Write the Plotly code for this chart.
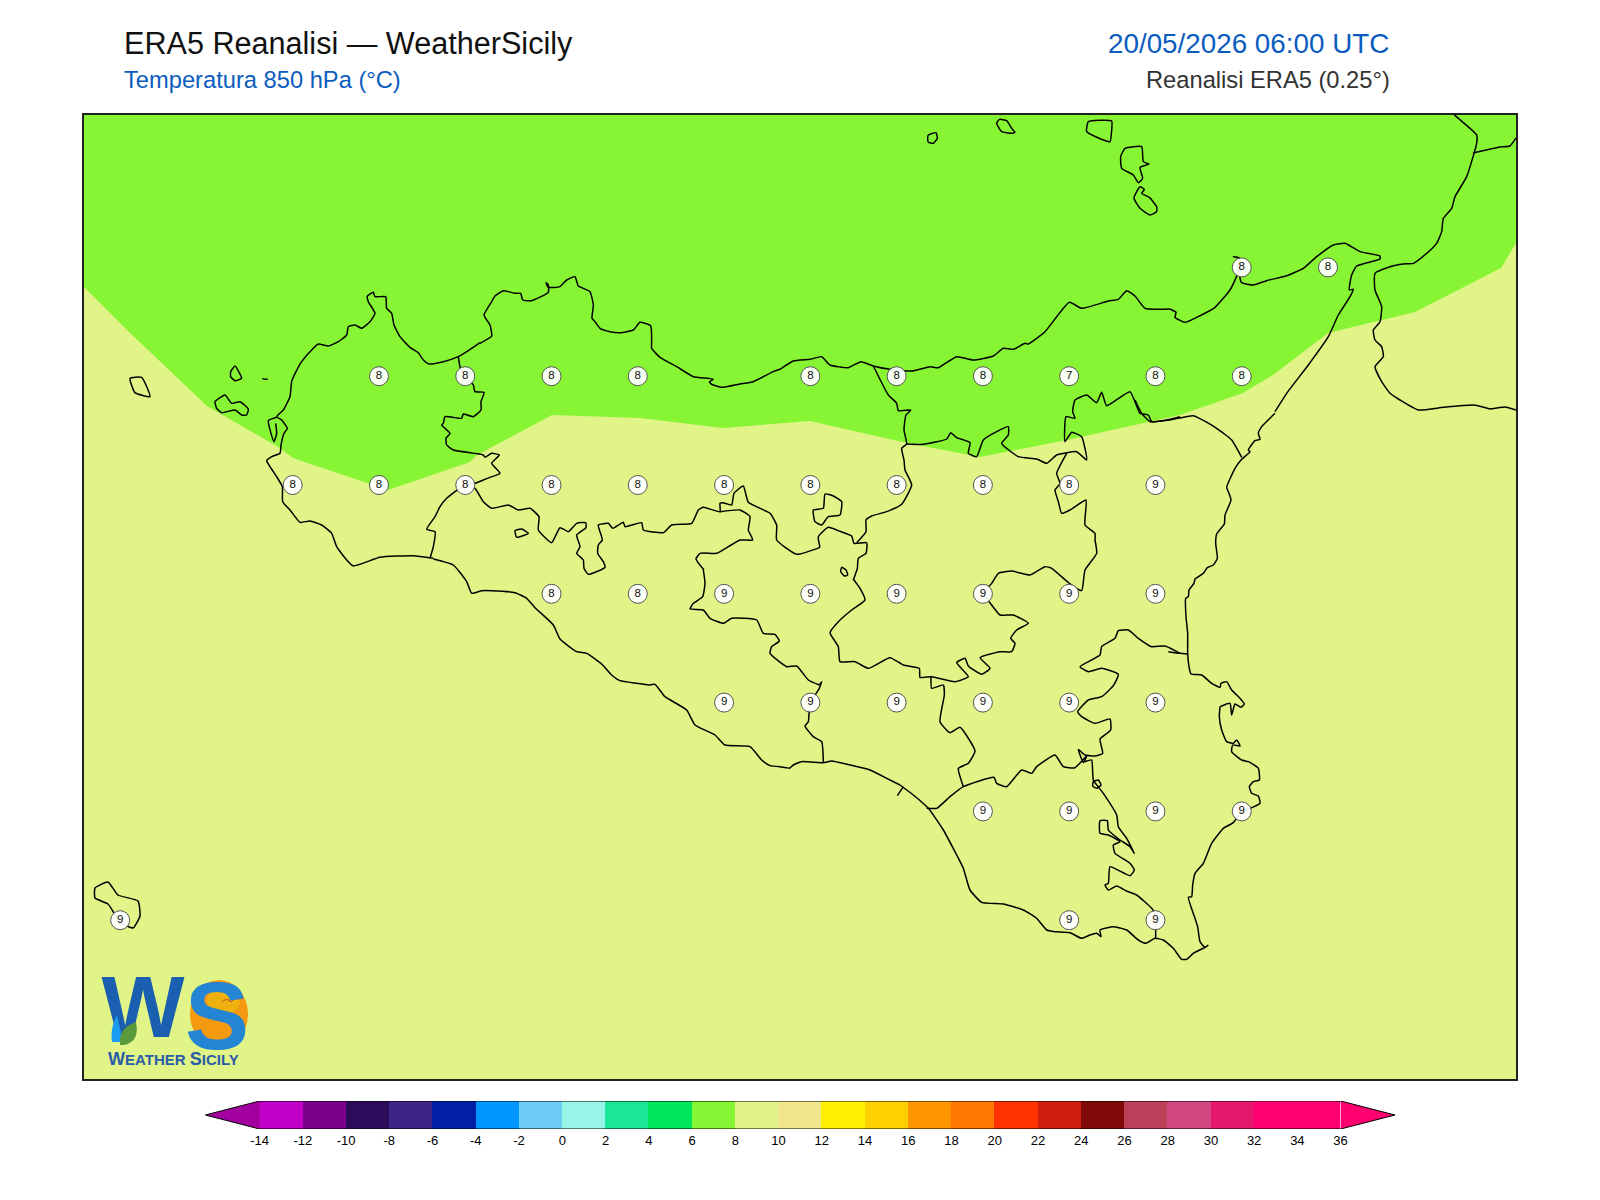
import plotly.graph_objects as go

# ---------- values printed on the map ----------
GRID_LON = [15.25, 15.5,
            12.75, 13.0, 13.25, 13.5, 14.0, 14.25, 14.5, 14.75, 15.0, 15.25,
            12.5, 12.75, 13.0, 13.25, 13.5, 13.75, 14.0, 14.25, 14.5, 14.75, 15.0,
            13.25, 13.5, 13.75, 14.0, 14.25, 14.5, 14.75, 15.0,
            13.75, 14.0, 14.25, 14.5, 14.75, 15.0,
            14.5, 14.75, 15.0, 15.25,
            12.0, 14.75, 15.0]
GRID_LAT = [38.25] * 2 + [38.0] * 10 + [37.75] * 11 + [37.5] * 8 + [37.25] * 6 + [37.0] * 4 + [36.75] * 3
GRID_T = [8, 8,
          8, 8, 8, 8, 8, 8, 8, 7, 8, 8,
          8, 8, 8, 8, 8, 8, 8, 8, 8, 8, 9,
          8, 8, 9, 9, 9, 9, 9, 9,
          9, 9, 9, 9, 9, 9,
          9, 9, 9, 9,
          9, 9, 9]

# ---------- colour scale ----------
LEVELS = list(range(-14, 36, 2))
LEVEL_COLORS = ["#c000c8", "#7d008a", "#2e0a5a", "#3d2587", "#001ea6", "#0096ff", "#6ecdf7", "#96f5e6",
                "#1ee698", "#00e65a", "#87f533", "#e1f487", "#f0e68c", "#fff000", "#ffd000", "#ff9600",
                "#ff7800", "#ff3200", "#cd1e0f", "#800a0a", "#bd405a", "#d04680", "#e6186e", "#ff0070", "#ff0070"]
TICK_VALUES = list(range(-14, 38, 2))
TICK_LABELS = [str(v) for v in TICK_VALUES]
LOW_COLOR = "#a3009f"
HIGH_COLOR = "#ff0070"
BAND_6_8 = "#87f533"
BAND_8_10 = "#e1f487"

# ---------- traced outlines: tracing-sheet units, converted to lon/lat below ----------
BAND_EDGE = [(84, 287), (127, 330), (207, 406), (280, 448), (293, 458), (388, 490), (470, 462), (477, 455),
             (552, 415), (640, 418), (723, 428), (810, 421), (907, 443), (980, 457), (1067, 440), (1180, 415),
             (1243, 393), (1273, 375), (1328, 333), (1415, 312), (1501, 268), (1516, 243)]

COAST_WEST = [(1060, 895), (1000, 887), (900, 892), (820, 918), (800, 900), (770, 860), (755, 820), (725, 795),
              (690, 783), (660, 787), (630, 750), (608, 725), (607, 680), (590, 650), (570, 620), (560, 602),
              (575, 590), (600, 580), (603, 555), (612, 520), (622, 505), (605, 480), (590, 470), (610, 450),
              (630, 410), (635, 365), (648, 335), (665, 305), (700, 265), (715, 252), (745, 258), (775, 245),
              (800, 225), (805, 200), (825, 195), (845, 205), (870, 185), (885, 160), (865, 125), (862, 108),
              (880, 97), (885, 110), (917, 110), (920, 145), (935, 160), (942, 195), (960, 230), (990, 262),
              (1015, 278), (1030, 300), (1047, 312), (1090, 305), (1135, 290), (1165, 272), (1200, 248)]
STAGNONE = [(590, 472), (565, 482), (573, 520), (582, 545), (590, 520), (587, 490)]
COAST_PALERMO = [(180, 250), (215, 228), (210, 195), (192, 165), (215, 125), (225, 108), (250, 92), (285, 100),
                 (302, 100), (308, 120), (335, 122), (385, 97), (385, 75), (378, 68), (385, 82), (420, 80),
                 (440, 60), (465, 50), (475, 78), (510, 95), (520, 135), (516, 175), (525, 185), (540, 205),
                 (570, 215), (600, 218), (640, 210), (660, 187), (692, 197), (695, 245), (695, 265), (720, 292),
                 (770, 320), (820, 350), (865, 355), (880, 358), (868, 365), (875, 373), (905, 382), (960, 372),
                 (1000, 365), (1060, 335), (1080, 328)]
COAST_NEBRODI = [(0, 328), (40, 303), (90, 298), (125, 290), (150, 315), (205, 323), (243, 305), (280, 318),
                 (330, 328), (395, 333), (450, 320), (475, 323), (530, 290), (580, 300), (640, 288), (670, 265),
                 (700, 268), (735, 250), (745, 252), (795, 215), (868, 127), (905, 145), (985, 123), (1015, 118),
                 (1040, 92), (1065, 108), (1095, 145), (1170, 147)]
COAST_PELORITANI = [(240, 597), (258, 607), (255, 622), (285, 637), (320, 622), (375, 592), (420, 540), (440, 498),
                    (447, 445), (430, 440), (447, 443), (450, 505), (455, 518), (490, 525), (530, 512), (590, 497),
                    (640, 475), (680, 440), (730, 405), (765, 400), (810, 425), (870, 438), (870, 447), (800, 468),
                    (785, 495), (778, 540), (790, 538), (780, 560), (745, 615), (715, 680), (655, 765), (590, 850),
                    (555, 905)]
COAST_IONIAN = [(465, 40), (425, 80), (415, 100), (420, 118), (405, 122), (385, 150), (390, 155), (365, 178),
                (345, 205), (320, 262), (325, 275), (333, 300), (315, 345), (313, 372), (290, 402), (287, 430),
                (292, 475), (280, 495), (262, 503), (250, 520), (225, 537), (222, 550), (207, 570), (205, 590),
                (197, 595), (198, 650), (203, 700), (203, 760), (207, 800), (213, 822), (245, 825), (275, 850),
                (300, 862), (303, 850), (320, 845), (335, 870), (360, 895), (373, 912), (362, 922), (345, 912),
                (335, 945), (330, 910), (300, 920)]
COAST_SOUTHEAST = [(960, 20), (958, 50), (965, 90), (980, 125), (1000, 130), (1010, 120), (1020, 138), (998, 135),
                   (995, 155), (1025, 180), (1045, 185), (1075, 205), (1078, 240), (1060, 245), (1048, 260),
                   (1055, 280), (1075, 288), (1080, 310), (1050, 325), (1025, 333), (1000, 368), (970, 385),
                   (935, 430), (910, 490), (885, 520), (878, 555), (875, 590), (865, 592), (885, 655), (893, 680),
                   (900, 725), (915, 742), (925, 735), (915, 742), (880, 760), (860, 778), (845, 778), (820, 745),
                   (790, 720), (765, 715), (738, 730), (715, 720), (680, 690), (640, 680), (600, 690), (603, 710),
                   (590, 700), (570, 705), (545, 715), (510, 698), (465, 695), (440, 690), (410, 655), (370, 630),
                   (310, 612), (245, 607), (210, 570), (190, 505), (170, 465), (130, 390), (85, 325), (40, 285),
                   (0, 255)]
COAST_GELA = [(360, 735), (330, 720), (270, 690), (210, 675), (155, 663), (130, 668), (65, 665), (40, 675),
              (28, 685), (20, 683), (0, 680)]
GELA_MOUTH = [(370, 740), (352, 767)]
COAST_SOUTHWEST = [(1080, 680), (1050, 677), (1025, 660), (990, 620), (915, 615), (885, 585), (825, 555), (800, 510),
                   (735, 470), (705, 433), (685, 435), (650, 430), (600, 422), (575, 405), (545, 372), (500, 340),
                   (470, 335), (420, 297), (400, 255), (345, 203), (320, 175), (285, 158), (215, 152), (185, 152),
                   (155, 160), (140, 125), (100, 75), (40, 57)]

BORDER_TP_PA = [(115, 290), (120, 320), (135, 349), (160, 375), (165, 395), (192, 397), (183, 425), (183, 450),
                (160, 470), (130, 462), (125, 475), (75, 470), (70, 490), (65, 495), (90, 520), (78, 535),
                (80, 555), (100, 570), (190, 585), (195, 592), (215, 580), (238, 585), (215, 610), (240, 640),
                (210, 652), (190, 660), (165, 670), (135, 675), (165, 685), (190, 725), (215, 745), (265, 735),
                (295, 750), (330, 745), (357, 770), (355, 810), (395, 848), (420, 803), (445, 815), (470, 790),
                (497, 788), (498, 803), (470, 825), (480, 860), (470, 880), (490, 900), (492, 925), (505, 943),
                (555, 922), (550, 905), (533, 880), (535, 855), (547, 840), (535, 795), (565, 790), (578, 805),
                (610, 787), (615, 800), (665, 788), (670, 810), (730, 818), (755, 795), (815, 790), (835, 750),
                (850, 742), (900, 755), (900, 730), (908, 728), (935, 735), (942, 700), (970, 678), (985, 727),
                (1050, 760), (1070, 795), (1070, 840), (1130, 883), (1200, 862)]
BORDER_TP_AG = [(135, 675), (105, 695), (80, 715), (60, 740), (45, 770), (20, 808), (45, 815), (40, 860), (30, 895)]
BORDER_AG_CL_N = [(900, 755), (960, 750), (990, 770), (985, 810), (998, 840), (960, 840), (925, 860), (890, 880),
                  (840, 880), (828, 897), (852, 930)]
BORDER_AG_CL_S = [(850, 90), (855, 130), (848, 170), (820, 190), (810, 207), (850, 210), (870, 235), (910, 250),
                  (935, 235), (1010, 240), (1030, 280), (1065, 283), (1078, 303), (1055, 320), (1050, 340),
                  (1100, 380), (1130, 378), (1165, 420), (1198, 435)]
BORDER_AG_CL_END = [(118, 435), (125, 425), (118, 445), (90, 490), (85, 545), (75, 558), (100, 590), (125, 605),
                    (130, 668)]
BORDER_PA_CL = [(120, 862), (115, 830), (145, 802), (175, 812), (215, 828),
                (222, 850), (260, 848), (258, 880), (235, 895), (232, 925), (220, 960)]
BORDER_PA_ME = [(230, 848), (258, 815), (258, 780), (275, 768), (320, 755), (365, 733), (395, 675), (375, 630),
                (372, 600), (365, 565), (380, 552), (372, 510), (378, 465), (393, 450), (355, 452), (350, 430),
                (325, 405), (280, 318)]
BORDER_ME_EN = [(380, 552), (430, 553), (500, 537), (512, 518), (530, 533), (570, 548), (565, 580), (590, 590),
                (610, 540), (650, 515), (685, 500), (685, 525), (665, 550), (715, 590), (770, 597), (800, 610),
                (830, 585), (890, 575), (920, 600), (905, 530), (875, 517), (855, 545), (858, 470), (885, 475),
                (878, 455), (885, 420), (920, 405), (950, 428), (965, 397), (980, 437), (1050, 395), (1080, 460),
                (1105, 465), (1115, 485), (1170, 478), (1200, 470)]
BORDER_ME_CT = [(860, 580), (830, 640), (840, 670), (825, 690), (835, 725), (845, 760), (870, 750), (918, 720),
                (915, 795), (945, 820), (945, 840)]
BORDER_EN_CL = [(220, 118), (240, 145), (255, 180), (215, 210), (175, 245), (150, 278), (175, 320), (180, 365),
                (225, 365), (265, 385), (330, 353), (370, 375), (418, 385), (420, 412), (455, 410), (525, 425),
                (565, 410), (530, 368), (555, 355), (565, 378), (605, 403), (630, 385), (600, 353), (660, 335),
                (695, 335), (705, 310), (692, 295), (710, 270), (745, 250), (700, 225), (660, 225), (635, 195),
                (610, 160), (635, 130), (655, 100), (695, 93), (750, 105), (795, 80), (815, 85), (868, 130),
                (905, 152), (915, 90), (950, 40), (945, 0)]
BORDER_CT_EAST = [(45, 0), (65, 40), (90, 65), (150, 60), (220, 47), (290, 85), (335, 120), (365, 172)]
BORDER_CT_SR = [(1200, 340), (1155, 318), (1115, 320), (1075, 295), (1045, 270), (1015, 272), (1005, 295), (965, 320),
                (960, 345), (900, 380), (925, 395), (965, 385), (1015, 403), (1000, 437), (965, 470), (925, 480),
                (893, 515), (905, 530), (945, 550), (990, 537), (992, 570), (960, 597), (968, 640), (945, 648),
                (915, 645), (895, 628), (910, 668), (920, 648), (885, 683), (850, 680), (825, 645), (770, 680),
                (755, 700), (725, 690), (680, 740), (650, 730), (642, 712), (550, 740), (510, 770), (470, 805),
                (440, 805)]
BORDER_CT_SR_END = [(145, 755), (180, 760), (202, 762)]
BORDER_CL_RG = [(550, 740), (535, 685), (565, 670), (585, 633), (540, 562), (510, 578), (480, 545), (493, 465),
                (490, 435), (455, 445), (453, 408)]
BORDER_RG_SR = [(555, 185), (575, 180), (580, 240), (610, 280), (650, 345), (655, 380), (680, 415), (703, 460),
                (690, 440), (660, 420), (625, 390), (622, 362), (600, 362), (600, 400), (625, 405), (660, 425),
                (640, 435), (645, 460), (690, 490), (703, 510), (690, 527), (630, 500), (625, 550), (615, 555),
                (625, 570), (650, 558), (680, 573), (710, 585), (755, 625), (765, 640), (767, 715)]
LAKE_POZZILLO = [(580, 245), (595, 240), (603, 255), (590, 265), (578, 258), (580, 245)]
LAKE_ARANCIO = [(285, 812), (305, 807), (325, 820), (290, 832), (285, 812)]
LAKE_ROSAMARINA = [(135, 702), (160, 708), (185, 725), (180, 765), (145, 770), (125, 795), (105, 785), (100, 750),
                   (130, 745), (135, 702)]
LAKE_PERGUSA = [(185, 82), (198, 90), (203, 105), (193, 108), (182, 95), (185, 82)]

FAVIGNANA = [(405, 425), (435, 405), (455, 430), (480, 425), (505, 447), (500, 465), (485, 465), (465, 450),
             (425, 458), (410, 445), (405, 425)]
LEVANZO = [(465, 318), (485, 355), (465, 362), (452, 350), (452, 335), (465, 318)]
MARETTIMO = [(150, 355), (185, 352), (210, 410), (165, 398), (150, 355)]
MARAONE = [(547, 355), (555, 358), (563, 358)]
ALICUDI = [(145, 75), (168, 68), (172, 85), (160, 100), (145, 97), (143, 85), (145, 75)]
FILICUDI = [(350, 40), (358, 28), (380, 32), (395, 55), (405, 67), (395, 70), (365, 65), (350, 40)]
SALINA = [(625, 35), (695, 33), (695, 60), (690, 95), (670, 90), (620, 65), (625, 35)]
LIPARI = [(735, 115), (785, 110), (790, 155), (807, 162), (780, 172), (788, 205), (775, 218), (760, 195),
          (725, 175), (722, 140), (735, 115)]
VULCANO = [(780, 230), (793, 238), (785, 250), (808, 262), (830, 290), (830, 305), (810, 315), (780, 295),
           (762, 265), (770, 245), (780, 230)]
PANTELLERIA = [(95, 888), (108, 882), (118, 895), (138, 901), (140, 916), (133, 928), (120, 922), (108, 904),
               (95, 898), (95, 888)]
CALABRIA_WEST = [(1090, 12), (1120, 38), (1160, 75), (1160, 100), (1130, 200), (1095, 260), (1085, 295), (1060, 325),
                 (1055, 365), (1040, 400), (1010, 430), (970, 460), (940, 462), (900, 470), (855, 490), (855, 540),
                 (875, 590), (870, 635), (850, 660), (855, 690), (875, 710), (880, 740), (855, 770), (875, 815),
                 (900, 850), (930, 870), (985, 900), (1060, 892), (1150, 885), (1200, 897)]
CALABRIA_SOUTH_END = [(1490, 409), (1505, 407), (1516, 410)]
CALABRIA_NORTH = [(1473, 153), (1486, 150), (1500, 147), (1510, 146), (1516, 138)]

# (outline, sheet left, sheet top, sheet units per map unit)
SHEET_1 = (80, 260, 3)
SHEET_2 = (420, 260, 3)
SHEET_3 = (780, 260, 3)
SHEET_4 = (1090, 110, 3)
SHEET_5 = (420, 540, 3)
SHEET_6 = (780, 540, 3)
SHEET_7 = (900, 700, 3)
SHEET_8 = (1120, 400, 3)
SHEET_12 = (880, 110, 3)
SHEET_0 = (0, 0, 1)
OUTLINES = [(COAST_WEST, SHEET_1), (STAGNONE, SHEET_1), (FAVIGNANA, SHEET_1), (LEVANZO, SHEET_1), (MARETTIMO, SHEET_1),
            (MARAONE, SHEET_1), (COAST_PALERMO, SHEET_2), (COAST_NEBRODI, SHEET_3), (COAST_PELORITANI, SHEET_4),
            (COAST_IONIAN, SHEET_8), (COAST_SOUTHEAST, SHEET_7), (COAST_GELA, SHEET_6), (GELA_MOUTH, SHEET_6),
            (COAST_SOUTHWEST, SHEET_5), (BORDER_TP_PA, SHEET_2), (BORDER_TP_AG, SHEET_2), (BORDER_AG_CL_N, SHEET_2),
            (BORDER_AG_CL_S, SHEET_5), (BORDER_AG_CL_END, SHEET_6), (BORDER_PA_CL, SHEET_3), (BORDER_PA_ME, SHEET_3),
            (BORDER_ME_EN, SHEET_3), (BORDER_ME_CT, SHEET_3), (BORDER_EN_CL, SHEET_6), (BORDER_CT_EAST, SHEET_8),
            (BORDER_CT_SR, SHEET_6), (BORDER_CT_SR_END, SHEET_8), (BORDER_CL_RG, SHEET_6), (BORDER_RG_SR, SHEET_7),
            (LAKE_POZZILLO, SHEET_7), (LAKE_ARANCIO, SHEET_2), (LAKE_ROSAMARINA, SHEET_3), (LAKE_PERGUSA, SHEET_6),
            (ALICUDI, SHEET_12), (FILICUDI, SHEET_12), (SALINA, SHEET_12), (LIPARI, SHEET_12), (VULCANO, SHEET_12),
            (PANTELLERIA, SHEET_0), (CALABRIA_WEST, SHEET_4), (CALABRIA_SOUTH_END, SHEET_0), (CALABRIA_NORTH, SHEET_0)]

# ---------- page geometry ----------
W, H = 1600, 1200
LEFT, RIGHT, TOP, BOTTOM = 84, 1516, 115, 1079
CB_LEFT, CB_RIGHT, CB_TOP, CB_BOTTOM = 205.3, 1395, 1101, 1129


def lon_of(p):
    return 12.5 + (p - 292.7) / 345.1


def lat_of(p):
    return 38.0 - (p - 376.2) / 435.2


def to_geo(points, sheet):
    x0, y0, s = sheet
    return [lon_of(x0 + a / s) for a, _ in points], [lat_of(y0 + b / s) for _, b in points]


def fx(p):
    return p / W


def fy(p):
    return 1 - p / H


fig = go.Figure()

# 8-10 background, then the 6-8 band
fig.add_trace(go.Scatter(x=[lon_of(LEFT), lon_of(RIGHT), lon_of(RIGHT), lon_of(LEFT), lon_of(LEFT)],
                         y=[lat_of(BOTTOM), lat_of(BOTTOM), lat_of(TOP), lat_of(TOP), lat_of(BOTTOM)],
                         fill="toself", fillcolor=BAND_8_10, mode="none", hoverinfo="skip"))
ex, ey = to_geo(BAND_EDGE, SHEET_0)
fig.add_trace(go.Scatter(x=[lon_of(LEFT)] + ex + [lon_of(RIGHT), lon_of(LEFT)],
                         y=[ey[0]] + ey + [lat_of(TOP), lat_of(TOP)],
                         fill="toself", fillcolor=BAND_6_8, mode="none", hoverinfo="skip"))

for pts, sheet in OUTLINES:
    ox, oy = to_geo(pts, sheet)
    fig.add_trace(go.Scatter(x=ox, y=oy, mode="lines", hoverinfo="skip",
                             line=dict(color="#000000", width=1.5, shape="spline", smoothing=0.45)))

fig.add_trace(go.Scatter(x=GRID_LON, y=GRID_LAT, mode="markers+text", text=[str(v) for v in GRID_T],
                         textposition="middle center",
                         textfont=dict(family="Liberation Sans, Arial", size=11.5, color="#111111"),
                         marker=dict(size=19, color="rgba(255,255,255,0.94)", line=dict(color="#555555", width=1)),
                         hoverinfo="skip"))

TXT = "Liberation Sans, Arial, sans-serif"

# logo initial, under the leaf and drop
fig.add_trace(go.Scatter(x=[lon_of(143)], y=[lat_of(1015)], mode="text", text=["<b>W</b>"],
                         textposition="middle center", textfont=dict(family=TXT, size=88, color="#1a5fb0"),
                         hoverinfo="skip"))

# colour bar
fig.add_trace(go.Bar(x=[v + 1 for v in LEVELS], y=[1] * len(LEVELS), width=2, marker=dict(color=LEVEL_COLORS, line_width=0),
                     xaxis="x2", yaxis="y2", hoverinfo="skip"))
UNIT = (1340.6 - 259.6) / 50
lo_end = -14 - (259.6 - CB_LEFT) / UNIT
hi_end = 36 + (CB_RIGHT - 1340.6) / UNIT
fig.add_trace(go.Scatter(x=[-14, lo_end, -14], y=[0, 0.5, 1], fill="toself", fillcolor=LOW_COLOR, mode="none",
                         xaxis="x2", yaxis="y2", hoverinfo="skip"))
fig.add_trace(go.Scatter(x=[36, hi_end, 36], y=[0, 0.5, 1], fill="toself", fillcolor=HIGH_COLOR, mode="none",
                         xaxis="x2", yaxis="y2", hoverinfo="skip"))
fig.add_trace(go.Scatter(x=[-14, lo_end, -14, 36, hi_end, 36, -14], y=[0, 0.5, 1, 1, 0.5, 0, 0], mode="lines",
                         line=dict(color="#000000", width=1), xaxis="x2", yaxis="y2", hoverinfo="skip"))


def label(x, y, text, size, color, anchor="left"):
    fig.add_annotation(xref="paper", yref="paper", x=fx(x), y=fy(y), text=text, showarrow=False, xanchor=anchor,
                       yanchor="middle", font=dict(family=TXT, size=size, color=color))


label(122, 43, "ERA5 Reanalisi — WeatherSicily", 30.6, "#111111")
label(122, 80, "Temperatura 850 hPa (°C)", 23.7, "#0b5cbe")
label(1391, 44, "20/05/2026 06:00 UTC", 27.8, "#0b5cbe", anchor="right")
label(1392, 80, "Reanalisi ERA5 (0.25°)", 23.7, "#333333", anchor="right")

# logo
def logo_path(path, fill, width=0, color=None):
    fig.add_shape(type="path", xref="paper", yref="paper", path=path, fillcolor=fill, layer="above",
                  line=dict(width=width, color=color or fill))


fig.add_shape(type="circle", xref="paper", yref="paper", x0=fx(190), x1=fx(248), y0=fy(980), y1=fy(1048),
              fillcolor="#f59a10", line_width=0, layer="above")
fig.add_shape(type="circle", xref="paper", yref="paper", x0=fx(207), x1=fx(240), y0=fy(988), y1=fy(1014),
              fillcolor="#efb10f", line_width=0, layer="above")
logo_path(f"M {fx(112)} {fy(1042)} Q {fx(110)} {fy(1028)} {fx(117)} {fy(1015)} L {fx(123)} {fy(1042)} Z", "#1a9cf0")
logo_path(f"M {fx(120)} {fy(1045)} Q {fx(118)} {fy(1028)} {fx(136)} {fy(1022)} Q {fx(140)} {fy(1042)} {fx(124)} {fy(1045)} Z",
          "#5a9a3a")
label(217, 1015, "<b>S</b>", 96, "#2385d3", anchor="center")
logo_path(f"M {fx(222)} {fy(1002)} Q {fx(227)} {fy(997)} {fx(231)} {fy(1002)} Q {fx(235)} {fy(997)} {fx(240)} {fy(999)}",
          "rgba(0,0,0,0)", width=1, color="#c8501e")
label(173.5, 1059, '<b><span style="font-size:18px">W</span>EATHER <span style="font-size:18px">S</span>ICILY</b>', 15, "#2a5ca8", anchor="center")

fig.update_layout(
    width=W, height=H, margin=dict(l=0, r=0, t=0, b=0), showlegend=False,
    paper_bgcolor="#ffffff", plot_bgcolor="#ffffff", bargap=0,
    xaxis=dict(domain=[fx(LEFT), fx(RIGHT)], range=[lon_of(LEFT), lon_of(RIGHT)], showgrid=False, zeroline=False,
               showticklabels=False, ticks="", showline=True, mirror=True, linecolor="#222222", linewidth=2),
    yaxis=dict(domain=[fy(BOTTOM), fy(TOP)], range=[lat_of(BOTTOM), lat_of(TOP)], showgrid=False, zeroline=False,
               showticklabels=False, ticks="", showline=True, mirror=True, linecolor="#222222", linewidth=2),
    xaxis2=dict(domain=[fx(CB_LEFT), fx(CB_RIGHT)], range=[lo_end, hi_end], anchor="y2", tickmode="array",
                tickvals=TICK_VALUES, ticktext=TICK_LABELS, showgrid=False, zeroline=False, ticks="",
                tickfont=dict(family=TXT, size=13, color="#000000"), showline=False, ticklabelstandoff=2),
    yaxis2=dict(domain=[fy(CB_BOTTOM), fy(CB_TOP)], range=[0, 1], anchor="x2", showgrid=False, zeroline=False,
                showticklabels=False, ticks="", showline=False),
)
fig.write_html("out.html", config=dict(displayModeBar=False), post_script="document.body.style.margin='0';")
